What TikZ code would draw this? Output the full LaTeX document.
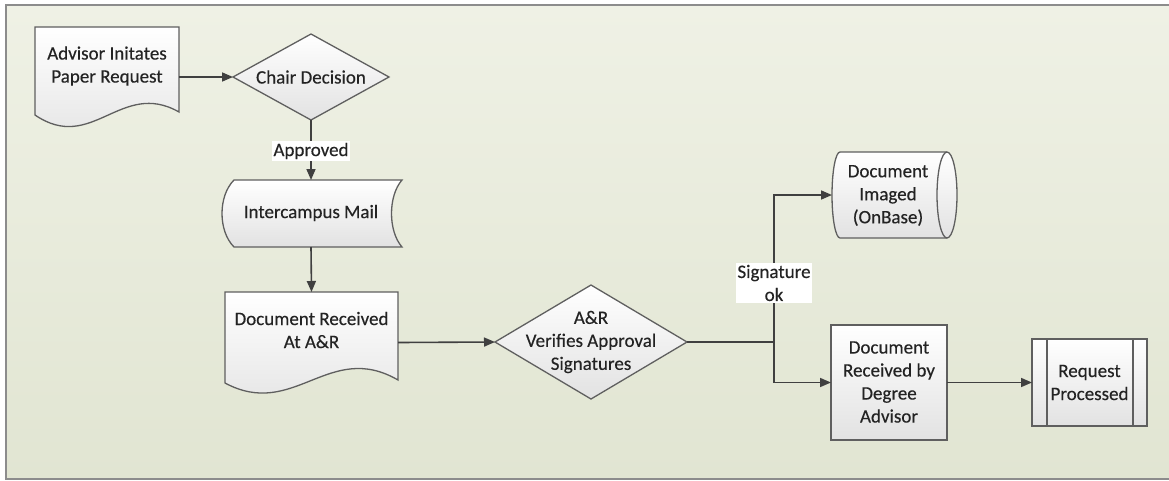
\documentclass[tikz,border=0pt]{standalone}
\usepackage{fontspec}
\setmainfont{Carlito}[FakeBold=0.35]
\usetikzlibrary{arrows.meta,calc}
\definecolor{bgtop}{RGB}{239,241,229}
\definecolor{bgbot}{RGB}{225,229,210}
\definecolor{framecol}{RGB}{140,140,140}
\definecolor{edgecol}{RGB}{95,95,95}
\definecolor{arrcol}{RGB}{64,64,64}
\definecolor{txtcol}{RGB}{35,35,35}
\definecolor{fillbot}{RGB}{226,226,226}
\tikzset{
  area/.style={draw=none, inner sep=0pt, outer sep=0pt, rectangle},
  txt/.style={align=center, text=txtcol, font=\fontsize{19}{23}\selectfont, inner sep=0pt},
  shp/.style={draw=edgecol, line width=1.3pt, top color=white, bottom color=fillbot},
  conn/.style={draw=arrcol, line width=1.6pt},
  arr/.style={conn, -{Triangle[length=11pt,width=9pt]}},
  lbl/.style={txt, fill=white, inner sep=1.5pt}
}
\begin{document}
\begin{tikzpicture}[x=1pt,y=-1pt]
\useasboundingbox (0,0) rectangle (1169,480);
\fill[white] (0,0) rectangle (1169,480);
\shade[top color=bgtop, bottom color=bgbot] (6,5) rectangle (1175,479);
\draw[framecol, line width=2.5pt] (1175,5) -- (6,5) -- (6,479) -- (1175,479);

% nodes (areas)
\node[area, minimum width=144pt, minimum height=100pt] (adv) at (107,77) {};
\node[area, minimum width=156pt, minimum height=86pt] (chair) at (311,77) {};
\node[area, minimum width=180pt, minimum height=67pt] (mail) at (311,213.5) {};
\node[area, minimum width=173pt, minimum height=101pt] (docar) at (311.5,342.5) {};
\node[area, minimum width=192pt, minimum height=114pt] (verify) at (591,342) {};
\node[area, minimum width=125pt, minimum height=86pt] (img) at (894.5,195) {};
\node[area, minimum width=116pt, minimum height=115pt] (deg) at (889,382.5) {};
\node[area, minimum width=115pt, minimum height=87pt] (req) at (1089.5,382.5) {};
\coordinate (junc) at (774,342);

% shapes
\draw[shp] (35,27) -- (179,27) -- (179,112) .. controls (121,79) and (92,154) .. (35,115) -- cycle;
\draw[shp] (233,77) -- (311,34) -- (389,77) -- (311,120) -- cycle;
\draw[shp] (234,180) -- (402,180) .. controls (388,196) and (388,231) .. (402,247) -- (234,247) .. controls (218,231) and (218,196) .. (234,180) -- cycle;
\draw[shp] (225,292) -- (398,292) -- (398,380) .. controls (329,340) and (294,420) .. (225,383) -- cycle;
\draw[shp] (495,342) -- (591,285) -- (687,342) -- (591,399) -- cycle;
\draw[shp] (840,152) -- (947,152) .. controls (952.5,152) and (957,171.3) .. (957,195) .. controls (957,218.7) and (952.5,238) .. (947,238) -- (840,238) .. controls (835.6,238) and (832,218.7) .. (832,195) .. controls (832,171.3) and (835.6,152) .. (840,152) -- cycle;
\draw[draw=edgecol, line width=1.3pt] (947,152) .. controls (941.5,152) and (937,171.3) .. (937,195) .. controls (937,218.7) and (941.5,238) .. (947,238);
\draw[shp] (831,325) rectangle (947,440);
\draw[shp] (1032,339) rectangle (1147,426);
\draw[draw=edgecol, line width=1.3pt] (1047,339) -- (1047,426) (1133,339) -- (1133,426);

% texts
\node[txt] (advT) at (107,66) {Advisor Initates\\Paper Request};
\node[txt] (chairT) at (311,77) {Chair Decision};
\node[txt] (mailT) at (311,213) {Intercampus Mail};
\node[txt] (docarT) at (311.5,330) {Document Received\\At A\&R};
\node[txt] (verifyT) at (591,342) {A\&R\\Verifies Approval\\Signatures};
\node[txt] (imgT) at (888,195.5) {Document\\Imaged\\(OnBase)};
\node[txt] (degT) at (889,382) {Document\\Received by\\Degree\\Advisor};
\node[txt] (reqT) at (1089.5,382.5) {Request\\Processed};

% connectors
\draw[arr] (adv.east) -- (chair.west);
\draw[arr] (chair.south) -- (mail.north);
\draw[arr] (mail.south) -- (docar.north);
\draw[arr] (docar.east) -- (verify.west);
\draw[conn] (verify.east) -- (junc);
\draw[arr] (junc) |- (img.west);
\draw[arr] (junc) |- (deg.west);
\draw[arr] (deg.east) -- (req.west);

% labels
\node[lbl] (approved) at (311,151) {Approved};
\node[lbl] (sigok) at (774,283) {Signature\\ok};
\end{tikzpicture}
\end{document}
